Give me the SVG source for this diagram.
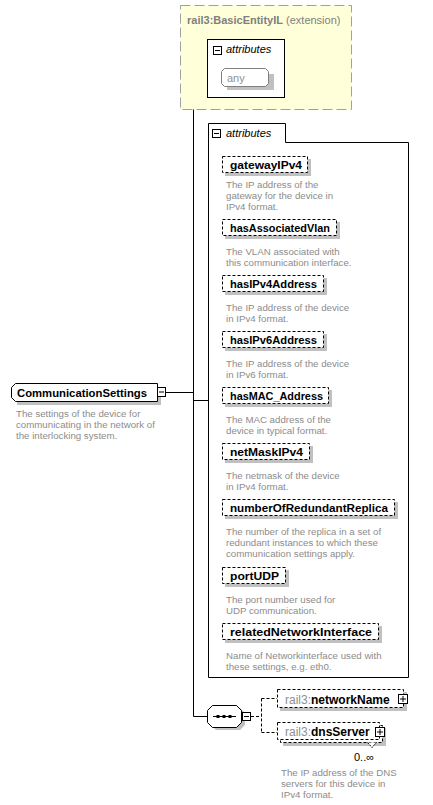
<svg xmlns="http://www.w3.org/2000/svg" width="433" height="805" viewBox="0 0 433 805">
<style>
text{font-family:"Liberation Sans",Arial,sans-serif}
.el{fill:#fff;stroke:#000;stroke-width:1;stroke-dasharray:3,2}
.sh{fill:#c0c0c0;stroke:none}
.nm{font-size:11.5px;font-weight:bold;fill:#000}
.ds{font-size:9.7px;fill:#8c8c8c}
.ln{fill:none;stroke:#000;stroke-width:1}
.dl{fill:none;stroke:#000;stroke-width:1;stroke-dasharray:3,2}
.box{fill:#fff;stroke:#000;stroke-width:1}
.it{font-size:11px;font-style:italic;fill:#000}
</style>
<g id="connectors">
<path class="ln" d="M193.5,69.5V716.5"/>
<path class="ln" d="M193.5,69.5H207.5"/>
<path class="ln" d="M166,392.5H193.5"/>
<path class="ln" d="M193.5,400.5H208.5"/>
<path class="ln" d="M193.5,716.5H207.5"/>
<path class="dl" d="M251,716.5H261.5M261.5,698.5V732.5M261.5,698.5H277M261.5,732.5H277"/>
</g>
<g id="extension">
<rect x="180.5" y="5.5" width="171" height="104" fill="#ffffd9" stroke="#a0a0a0" stroke-dasharray="10,4"/>
<text x="187" y="24" font-size="11px" fill="#808080"><tspan font-weight="bold">rail3:BasicEntityIL</tspan> (extension)</text>
</g>
<g id="ext-attributes">
<rect class="box" x="207.5" y="39.5" width="77" height="58"/>
<rect class="box" x="213.5" y="46.5" width="8" height="8"/>
<path class="ln" d="M215,50.5H220"/>
<text class="it" x="226" y="53">attributes</text>
</g>
<g id="any">
<path class="sh" d="M227,74H274V90H227Z"/>
<path d="M224.5,68.5H265.5L268.5,71.5V83.5L265.5,86.5H224.5L221.5,83.5V71.5Z" fill="#fff" stroke="#808080"/>
<text x="227" y="82" font-size="11px" fill="#909090">any</text>
</g>
<g id="CommunicationSettings">
<path class="sh" d="M17,388H161V405H17Z"/>
<path d="M15.5,383.5H157.5V401.5H15.5L11.5,397.5V387.5Z" fill="#fff" stroke="#000"/>
<text x="17" y="397" font-size="11.5px" font-weight="bold" fill="#000" textLength="130" lengthAdjust="spacingAndGlyphs">CommunicationSettings</text>
<rect class="box" x="157.5" y="387.5" width="8" height="9"/>
<path class="ln" d="M159,392H164"/>
<text class="ds" x="16" y="417">The settings of the device for</text>
<text class="ds" x="16" y="428">communicating in the network of</text>
<text class="ds" x="16" y="439">the interlocking system.</text>
</g>
<g id="attributes">
<path class="box" d="M208.5,677.5V123.5H285.5V142.5H408.5V677.5Z"/>
<rect class="box" x="212.5" y="129.5" width="8" height="8"/>
<path class="ln" d="M214,133.5H219"/>
<text class="it" x="226" y="137">attributes</text>
</g>
<g id="gatewayIPv4">
<rect class="sh" x="225" y="159" width="86" height="17"/>
<rect class="el" x="222.5" y="156.5" width="85" height="16"/>
<text class="nm" x="230" y="169" textLength="72" lengthAdjust="spacingAndGlyphs">gatewayIPv4</text>
<text class="ds" x="226" y="187.5">The IP address of the</text>
<text class="ds" x="226" y="198.5">gateway for the device in</text>
<text class="ds" x="226" y="209.5">IPv4 format.</text>
</g>
<g id="hasAssociatedVlan">
<rect class="sh" x="225" y="222" width="115" height="17"/>
<rect class="el" x="222.5" y="219.5" width="114" height="16"/>
<text class="nm" x="230" y="232" textLength="100" lengthAdjust="spacingAndGlyphs">hasAssociatedVlan</text>
<text class="ds" x="226" y="254.5">The VLAN associated with</text>
<text class="ds" x="226" y="265.5">this communication interface.</text>
</g>
<g id="hasIPv4Address">
<rect class="sh" x="225" y="278" width="102" height="17"/>
<rect class="el" x="222.5" y="275.5" width="101" height="16"/>
<text class="nm" x="230" y="288" textLength="87" lengthAdjust="spacingAndGlyphs">hasIPv4Address</text>
<text class="ds" x="226" y="310.5">The IP address of the device</text>
<text class="ds" x="226" y="321.5">in IPv4 format.</text>
</g>
<g id="hasIPv6Address">
<rect class="sh" x="225" y="334" width="102" height="17"/>
<rect class="el" x="222.5" y="331.5" width="101" height="16"/>
<text class="nm" x="230" y="344" textLength="87" lengthAdjust="spacingAndGlyphs">hasIPv6Address</text>
<text class="ds" x="226" y="366.5">The IP address of the device</text>
<text class="ds" x="226" y="377.5">in IPv6 format.</text>
</g>
<g id="hasMAC_Address">
<rect class="sh" x="225" y="390" width="107" height="17"/>
<rect class="el" x="222.5" y="387.5" width="106" height="16"/>
<text class="nm" x="230" y="400" textLength="93" lengthAdjust="spacingAndGlyphs">hasMAC_Address</text>
<text class="ds" x="226" y="422.5">The MAC address of the</text>
<text class="ds" x="226" y="433.5">device in typical format.</text>
</g>
<g id="netMaskIPv4">
<rect class="sh" x="225" y="446" width="88" height="17"/>
<rect class="el" x="222.5" y="443.5" width="87" height="16"/>
<text class="nm" x="230" y="456" textLength="73" lengthAdjust="spacingAndGlyphs">netMaskIPv4</text>
<text class="ds" x="226" y="478.5">The netmask of the device</text>
<text class="ds" x="226" y="489.5">in IPv4 format.</text>
</g>
<g id="numberOfRedundantReplica">
<rect class="sh" x="225" y="502" width="173" height="17"/>
<rect class="el" x="222.5" y="499.5" width="172" height="16"/>
<text class="nm" x="230" y="512" textLength="158" lengthAdjust="spacingAndGlyphs">numberOfRedundantReplica</text>
<text class="ds" x="226" y="534.5">The number of the replica in a set of</text>
<text class="ds" x="226" y="545.5">redundant instances to which these</text>
<text class="ds" x="226" y="556.5">communication settings apply.</text>
</g>
<g id="portUDP">
<rect class="sh" x="225" y="570" width="64" height="17"/>
<rect class="el" x="222.5" y="567.5" width="63" height="16"/>
<text class="nm" x="230" y="580" textLength="49" lengthAdjust="spacingAndGlyphs">portUDP</text>
<text class="ds" x="226" y="602.5">The port number used for</text>
<text class="ds" x="226" y="613.5">UDP communication.</text>
</g>
<g id="relatedNetworkInterface">
<rect class="sh" x="225" y="626" width="157" height="17"/>
<rect class="el" x="222.5" y="623.5" width="156" height="16"/>
<text class="nm" x="230" y="636" textLength="142" lengthAdjust="spacingAndGlyphs">relatedNetworkInterface</text>
<text class="ds" x="226" y="658.5">Name of Networkinterface used with</text>
<text class="ds" x="226" y="669.5">these settings, e.g. eth0.</text>
</g>
<g id="sequence">
<path class="sh" d="M216,708H240L245,713V725L240,730H216L211,725V713Z"/>
<path d="M212.5,705.5H236.5L241.5,710.5V722.5L236.5,727.5H212.5L207.5,722.5V710.5Z" fill="#fff" stroke="#000"/>
<path class="ln" d="M213,716.5H236"/>
<rect x="216.5" y="715" width="3" height="3" fill="#000"/>
<rect x="222.5" y="715" width="3" height="3" fill="#000"/>
<rect x="228.5" y="715" width="3" height="3" fill="#000"/>
<rect class="box" x="242.5" y="712.5" width="8" height="8"/>
<path class="ln" d="M244,716.5H249"/>
</g>
<g id="networkName">
<rect class="sh" x="280" y="692" width="127" height="19"/>
<rect class="el" x="277.5" y="689.5" width="126" height="18"/>
<text x="285" y="704" font-size="12px"><tspan fill="#909090">rail3:</tspan><tspan font-weight="bold" fill="#000">networkName</tspan></text>
<rect class="box" x="398.5" y="694.5" width="9" height="9"/>
<path class="ln" d="M400,699H406M403,696V702"/>
</g>
<g id="dnsServer">
<rect class="sh" x="283" y="728" width="103" height="18"/>
<rect class="el" x="280.5" y="725.5" width="102" height="17"/>
<rect class="el" x="277.5" y="722.5" width="102" height="17"/>
<text x="285" y="736" font-size="12px"><tspan fill="#909090">rail3:</tspan><tspan font-weight="bold" fill="#000">dnsServer</tspan></text>
<rect class="box" x="375.5" y="727.5" width="9" height="9"/>
<path class="ln" d="M377,732H383M380,729V735"/>
<path d="M367.5,742.5L372,747.5L376.5,742.5" fill="#fff" stroke="#000" stroke-dasharray="2,1"/>
<text x="354" y="761" font-size="11px" fill="#000">0..∞</text>
<text class="ds" x="281" y="776">The IP address of the DNS</text>
<text class="ds" x="281" y="787">servers for this device in</text>
<text class="ds" x="281" y="798">IPv4 format.</text>
</g>
</svg>
